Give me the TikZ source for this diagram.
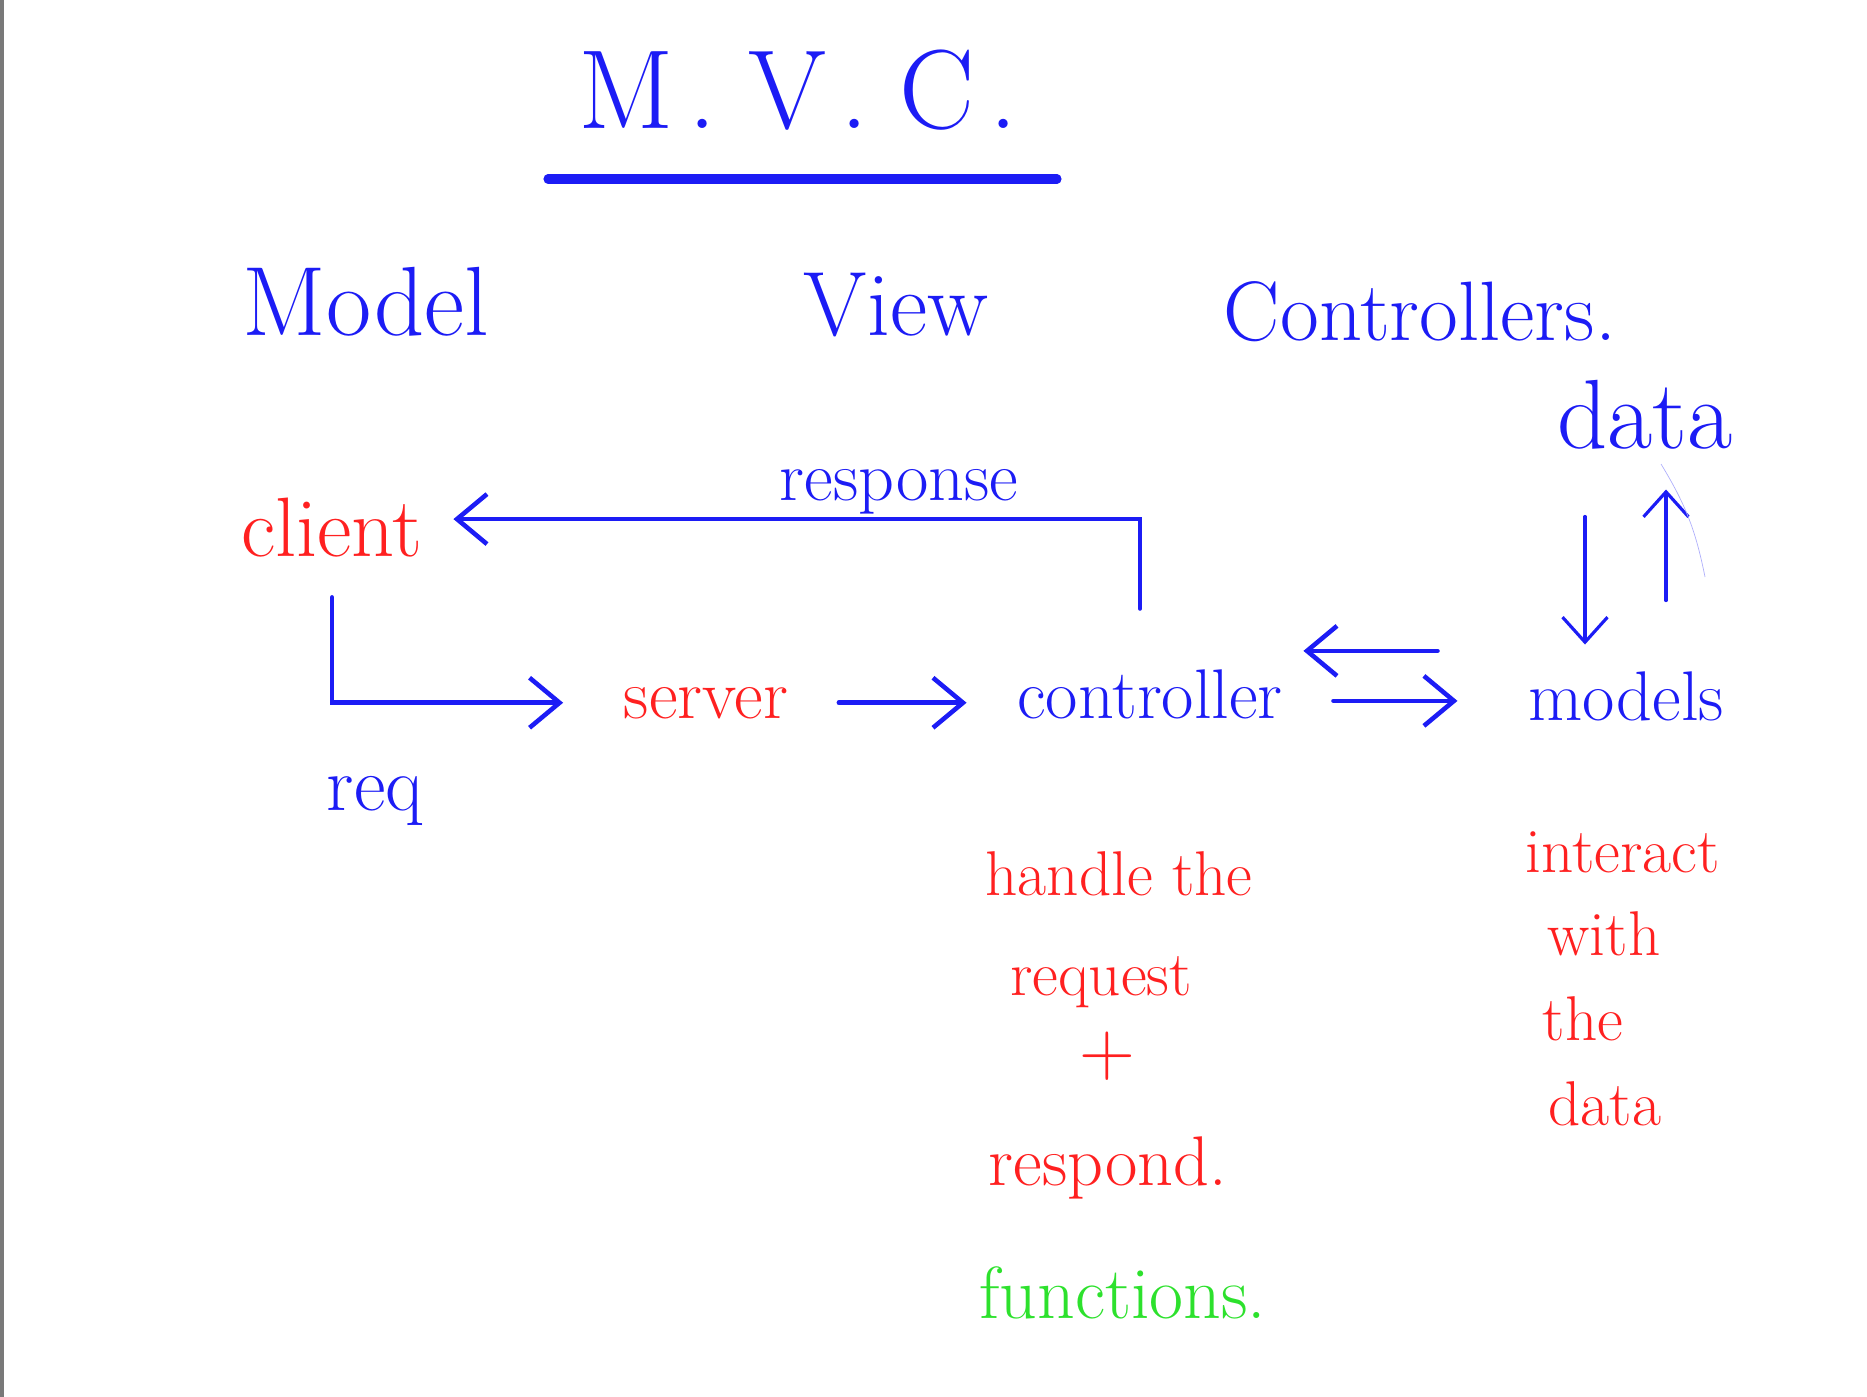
\documentclass[tikz,border=0pt]{standalone}
\usetikzlibrary{arrows.meta}
\definecolor{penblue}{RGB}{28,28,245}
\definecolor{penred}{RGB}{255,32,32}
\definecolor{pengreen}{RGB}{45,225,45}

\begin{document}
\begin{tikzpicture}[
    txt/.style={inner sep=0pt, anchor=base},
    title/.style={txt, penblue, font=\fontsize{32}{36}\selectfont},
    head/.style={txt, penblue, font=\fontsize{26}{30}\selectfont},
    lbl/.style={txt, font=\fontsize{20}{24}\selectfont},
    note/.style={txt, penred, font=\fontsize{18}{22}\selectfont},
    conn/.style={penblue, line width=1.3pt, line cap=round,
      -{Straight Barb[length=3mm,width=5mm,line width=1.3pt]}},
    thinconn/.style={penblue, line width=0.9pt, line cap=round,
      -{Straight Barb[length=2.5mm,width=4.5mm,line width=0.9pt]}}
  ]
  \useasboundingbox (0,0) rectangle (18.67,-13.97);
  \fill[gray!95!black] (0,0) rectangle (0.035,-13.97);

  % headings
  \node[title] (mvc) at (7.98,-1.28) {M\kern4pt.\kern9pt V\kern4pt.\kern9pt C\kern4pt.};
  \coordinate (ul1) at (5.48,-1.79);
  \coordinate (ul2) at (10.57,-1.79);
  \draw[penblue, line width=2.6pt, line cap=round] (ul1) -- (ul2);

  \node[head, font=\fontsize{28}{32}\selectfont] (model) at (3.66,-3.35) {Model};
  \node[head] (view) at (8.96,-3.35) {View};
  \node[head, font=\fontsize{24}{28}\selectfont] (ctrls) at (14.20,-3.40) {Controllers.};

  % request / response flow
  \node[lbl, penred, font=\fontsize{24}{28}\selectfont] (client) at (3.32,-5.56) {client};
  \node[lbl, penred] (srv) at (7.06,-7.18) {server};
  \node[lbl, penblue] (ctrl) at (11.50,-7.18) {controller};
  \node[lbl, penblue] (mdl) at (16.26,-7.20) {models};
  \node[head, font=\fontsize{28}{32}\selectfont] (dat) at (16.45,-4.48) {data};
  \node[lbl, penblue] (resp) at (8.99,-5.00) {response};
  \node[lbl, penblue, font=\fontsize{22}{26}\selectfont] (req) at (3.75,-8.10) {req};

  \draw[conn] ([xshift=-1mm,yshift=6mm]ctrl.north) |- ([xshift=3mm,yshift=0.8mm]client.east);
  \draw[conn] ([yshift=-4mm]client.south) |- ([xshift=-6mm]srv.west);
  \draw[conn, shorten <=5mm, shorten >=5mm] (srv.east) -- (srv.east -| ctrl.west);
  \draw[conn, shorten <=9mm, shorten >=2mm] ([yshift=4.5mm]mdl.west) -- ([yshift=4.5mm]mdl.west -| ctrl.east);
  \draw[conn, shorten <=5mm, shorten >=7mm] ([yshift=-0.5mm]mdl.west -| ctrl.east) -- ([yshift=-0.5mm]mdl.west);
  \draw[thinconn, shorten <=6.7mm, shorten >=2.6mm] ([xshift=-6mm]dat.south) -- ([xshift=-6mm]dat.south |- mdl.north);
  \draw[thinconn, shorten <=7mm, shorten >=4mm] ([xshift=2.1mm]dat.south |- mdl.north) -- ([xshift=2.1mm]dat.south);
  \draw[penblue!35, very thin] (16.61,-4.64) to[bend left=10] (17.05,-5.77);

  % notes
  \node[note] (hdl) at (11.19,-8.95) {handle the};
  \node[note] (rqst) at (11.01,-9.95) {request};
  \node[note, font=\fontsize{22}{26}\selectfont] (plus) at (11.07,-10.75) {+};
  \node[note, font=\fontsize{20}{24}\selectfont] (rspd) at (11.08,-11.85) {respond.};
  \node[lbl, pengreen, font=\fontsize{21}{25}\selectfont] (fns) at (11.23,-13.18) {functions.};

  \node[note] (intr) at (16.23,-8.72) {interact};
  \node[note] (wth) at (16.04,-9.55) {with};
  \node[note] (the) at (15.83,-10.40) {the};
  \node[note] (ddata) at (16.05,-11.25) {data};
\end{tikzpicture}
\end{document}
